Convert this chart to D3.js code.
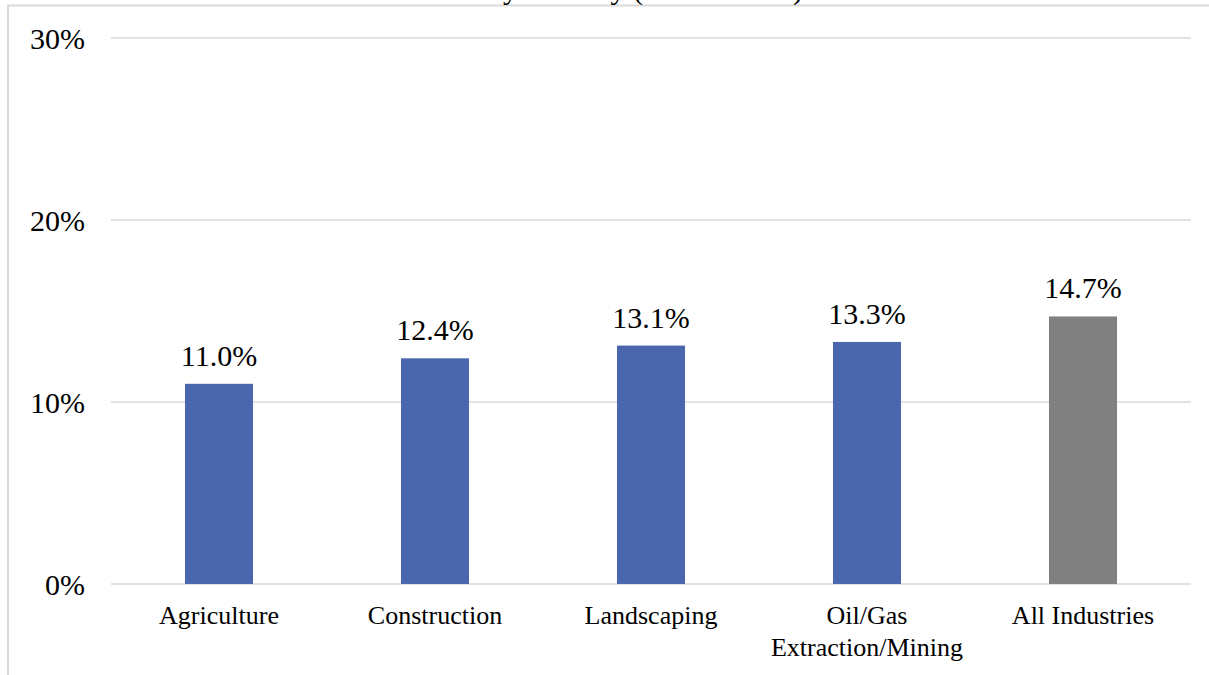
<!DOCTYPE html>
<html>
<head>
<meta charset="utf-8">
<script src="https://cdn.jsdelivr.net/npm/d3@7"></script>
<style>
  html, body { margin: 0; padding: 0; background: #fff; }
  svg { display: block; }
  text { font-family: "Liberation Serif", "Times New Roman", serif; fill: #000; }
</style>
</head>
<body>
<svg id="chart" width="1209" height="675"></svg>
<script>
const categories = ["Agriculture", "Construction", "Landscaping", "Oil/Gas\nExtraction/Mining", "All Industries"];
const values = [11.0, 12.4, 13.1, 13.3, 14.7];
const barColors = ["#4a67ae", "#4a67ae", "#4a67ae", "#4a67ae", "#808080"];
const yTicks = [0, 10, 20, 30];
const titleText = "Current Smokeless Tobacco Use by Industry (2013 – 2017)";

const W = 1209, H = 675;
const svg = d3.select("#chart");

// chart frame (top and left border visible)
svg.append("line").attr("x1", 7).attr("x2", W).attr("y1", 5.5).attr("y2", 5.5)
  .attr("stroke", "#d9d9d9").attr("stroke-width", 2);
svg.append("line").attr("x1", 8).attr("x2", 8).attr("y1", 5).attr("y2", H)
  .attr("stroke", "#d9d9d9").attr("stroke-width", 2);

// title (cut off at the top edge, as in the reference)
svg.append("text").attr("x", 803).attr("y", -1).attr("text-anchor", "end")
  .style("font-size", "30px").text(titleText);

const x = d3.scaleBand().domain(categories).range([111, 1191]).paddingInner(0.685).paddingOuter(0.3425);
const y = d3.scaleLinear().domain([0, 30]).range([584, 38]);

// gridlines
svg.append("g").selectAll("line").data(yTicks).join("line")
  .attr("x1", 111).attr("x2", 1191)
  .attr("y1", d => y(d)).attr("y2", d => y(d))
  .attr("stroke", "#d9d9d9").attr("stroke-width", 1.5);

// y axis labels
const yAxis = d3.axisLeft(y).tickValues(yTicks).tickFormat(d => d + "%").tickSize(0).tickPadding(0);
const yg = svg.append("g").attr("transform", "translate(85,0)").call(yAxis);
yg.attr("font-family", null);
yg.select(".domain").remove();
yg.selectAll("text").style("font-size", "30px").attr("fill", "#000").attr("dy", "0.34em");

// bars
svg.append("g").selectAll("rect").data(values).join("rect")
  .attr("x", (d, i) => x(categories[i]))
  .attr("width", x.bandwidth())
  .attr("y", d => y(d))
  .attr("height", d => y(0) - y(d))
  .attr("fill", (d, i) => barColors[i]);

// data labels
svg.append("g").selectAll("text").data(values).join("text")
  .attr("x", (d, i) => x(categories[i]) + x.bandwidth() / 2)
  .attr("y", d => y(d) - 18)
  .attr("text-anchor", "middle")
  .style("font-size", "30px")
  .text(d => d.toFixed(1) + "%");

// category labels
const cg = svg.append("g").selectAll("text").data(categories).join("text")
  .attr("x", d => x(d) + x.bandwidth() / 2)
  .attr("y", 624)
  .attr("text-anchor", "middle")
  .style("font-size", "26px");
cg.each(function(d) {
  const t = d3.select(this);
  d.split("\n").forEach((line, i) => {
    t.append("tspan").attr("x", t.attr("x")).attr("dy", i === 0 ? 0 : 32).text(line);
  });
});
</script>
</body>
</html>
